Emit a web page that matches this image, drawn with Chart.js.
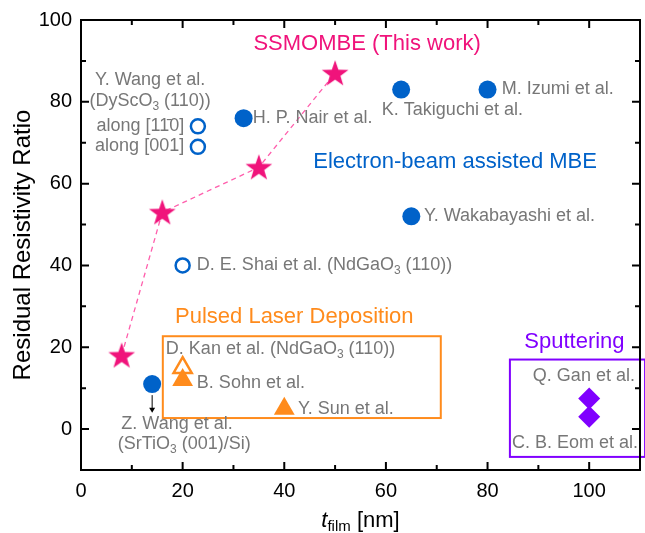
<!DOCTYPE html>
<html>
<head>
<meta charset="utf-8">
<script src="https://cdn.jsdelivr.net/npm/chart.js@4.4.1/dist/chart.umd.min.js"></script>
<style>
  html, body { margin: 0; padding: 0; background: #fff; }
  #wrap { width: 645px; height: 533px; }
</style>
</head>
<body>
<div id="wrap"><canvas id="rrrChart" width="645" height="533"></canvas></div>
<script>
// --- data ---
const ssmombeX = [8, 16, 35, 50];
const ssmombeY = [18, 53, 64, 87];

const ebFilledX = [14, 32, 63, 80, 65];
const ebFilledY = [11, 76, 83, 83, 52];

const ebOpenX = [23, 23, 20];
const ebOpenY = [74, 69, 40];

const pldOpenX = [20];
const pldOpenY = [15];
const pldFilledX = [20, 40];
const pldFilledY = [12, 5];

const sputX = [100, 100];
const sputY = [7.5, 3];

const xTickLabels = [0, 20, 40, 60, 80, 100];
const yTickLabels = [0, 20, 40, 60, 80, 100];

const PINK = '#f0137b';
const BLUE = '#0062c9';
const ORANGE = '#ff8b1c';
const PURPLE = '#8000ff';
const GRAY = '#777777';
const FONT = '"Liberation Sans", Arial, sans-serif';

function pts(xs, ys) {
    return xs.map((x, i) => ({ x: x, y: ys[i] }));
}

// five pointed star used as marker
function makeStar(r, color) {
    const c = document.createElement('canvas');
    const s = Math.ceil(r * 2 + 2);
    c.width = s;
    c.height = s;
    const g = c.getContext('2d');
    g.fillStyle = color;
    g.beginPath();
    for (let i = 0; i < 10; i++) {
        const rad = i % 2 === 0 ? r : r * 0.4;
        const a = -Math.PI / 2 + i * Math.PI / 5;
        const px = s / 2 + rad * Math.cos(a);
        const py = s / 2 + 1 + rad * Math.sin(a);
        if (i === 0) g.moveTo(px, py); else g.lineTo(px, py);
    }
    g.closePath();
    g.fill();
    return c;
}

// text labels placed in data units
const notes = [
    { t: 'SSMOMBE (This work)', x: 56.3, y: 94.1, c: PINK, s: 22, a: 'center' },
    { t: 'Electron-beam assisted MBE', x: 45.7, y: 65.3, c: BLUE, s: 22, a: 'left' },
    { t: 'Pulsed Laser Deposition', x: 18.5, y: 27.4, c: ORANGE, s: 22, a: 'left' },
    { t: 'Sputtering', x: 97.1, y: 21.3, c: PURPLE, s: 22, a: 'center' },
    { t: 'Y. Wang et al.', x: 13.6, y: 85.3, a: 'center' },
    { t: '(DyScO|3| (110))', x: 13.6, y: 80.2, a: 'center' },
    { t: 'along [11\u03040]', x: 20.3, y: 74.1, a: 'right' },
    { t: 'along [001]', x: 20.3, y: 69.2, a: 'right' },
    { t: 'H. P. Nair et al.', x: 33.8, y: 76, a: 'left' },
    { t: 'K. Takiguchi et al.', x: 59.2, y: 78, a: 'left' },
    { t: 'M. Izumi et al.', x: 82.8, y: 83.1, a: 'left' },
    { t: 'Y. Wakabayashi et al.', x: 67.5, y: 52.1, a: 'left' },
    { t: 'D. E. Shai et al. (NdGaO|3| (110))', x: 22.8, y: 40.1, a: 'left' },
    { t: 'D. Kan et al. (NdGaO|3| (110))', x: 16.7, y: 19.6, a: 'left' },
    { t: 'B. Sohn et al.', x: 22.8, y: 11.2, a: 'left' },
    { t: 'Y. Sun et al.', x: 42.7, y: 4.9, a: 'left' },
    { t: 'Z. Wang et al.', x: 18.9, y: 1.2, a: 'center' },
    { t: '(SrTiO|3| (001)/Si)', x: 20.3, y: -3.7, a: 'center' },
    { t: 'Q. Gan et al.', x: 109, y: 13, a: 'right' },
    { t: 'C. B. Eom et al.', x: 109.6, y: -3.4, a: 'right' }
];

const boxes = [
    { x0: 16.1, x1: 70.8, y0: 22.7, y1: 2.7, c: ORANGE },
    { x0: 84.4, x1: 111, y0: 17, y1: -6.8, c: PURPLE }
];

// text with "|sub|" segments
function drawRich(ctx, text, x, y, size, color, align) {
    const parts = text.split('|');
    const subSize = Math.round(size * 0.68);
    let total = 0;
    parts.forEach((p, i) => {
        ctx.font = (i % 2 ? subSize : size) + 'px ' + FONT;
        total += ctx.measureText(p).width;
    });
    let cx = x;
    if (align === 'center') cx = x - total / 2;
    if (align === 'right') cx = x - total;
    ctx.fillStyle = color;
    ctx.textAlign = 'left';
    ctx.textBaseline = 'middle';
    parts.forEach((p, i) => {
        const sub = i % 2 === 1;
        ctx.font = (sub ? subSize : size) + 'px ' + FONT;
        ctx.fillText(p, cx, sub ? y + size * 0.3 : y);
        cx += ctx.measureText(p).width;
    });
}

const framePlugin = {
    id: 'framePlugin',
    afterDraw(chart) {
        const ctx = chart.ctx;
        const area = chart.chartArea;
        const xs = chart.scales.x;
        const ys = chart.scales.y;
        ctx.save();

        // boxes
        boxes.forEach(b => {
            ctx.strokeStyle = b.c;
            ctx.lineWidth = 2;
            const l = xs.getPixelForValue(b.x0), r = xs.getPixelForValue(b.x1);
            const t = ys.getPixelForValue(b.y0), btm = ys.getPixelForValue(b.y1);
            ctx.strokeRect(l, t, r - l, btm - t);
        });

        // labels
        notes.forEach(n => {
            drawRich(ctx, n.t, xs.getPixelForValue(n.x), ys.getPixelForValue(n.y),
                n.s || 18, n.c || GRAY, n.a);
        });

        // arrow under Z. Wang point
        const ax = xs.getPixelForValue(14);
        const ay0 = ys.getPixelForValue(8.3), ay1 = ys.getPixelForValue(4.0);
        ctx.strokeStyle = '#000';
        ctx.fillStyle = '#000';
        ctx.lineWidth = 1;
        ctx.beginPath();
        ctx.moveTo(ax, ay0);
        ctx.lineTo(ax, ay1 - 4);
        ctx.stroke();
        ctx.beginPath();
        ctx.moveTo(ax - 3, ay1 - 5);
        ctx.lineTo(ax + 3, ay1 - 5);
        ctx.lineTo(ax, ay1);
        ctx.closePath();
        ctx.fill();

        // frame and inward ticks
        ctx.strokeStyle = '#000';
        ctx.lineWidth = 2;
        ctx.strokeRect(area.left, area.top, area.right - area.left, area.bottom - area.top);
        ctx.beginPath();
        xs.ticks.forEach(t => {
            const px = xs.getPixelForValue(t.value);
            const len = xTickLabels.includes(t.value) ? 8 : 5;
            ctx.moveTo(px, area.bottom);
            ctx.lineTo(px, area.bottom - len);
            ctx.moveTo(px, area.top);
            ctx.lineTo(px, area.top + len);
        });
        ys.ticks.forEach(t => {
            const py = ys.getPixelForValue(t.value);
            const len = yTickLabels.includes(t.value) ? 8 : 5;
            ctx.moveTo(area.left, py);
            ctx.lineTo(area.left + len, py);
            ctx.moveTo(area.right, py);
            ctx.lineTo(area.right - len, py);
        });
        ctx.stroke();

        // x axis title: t_film [nm]
        const cxm = (area.left + area.right) / 2;
        ctx.fillStyle = '#000';
        ctx.textBaseline = 'alphabetic';
        ctx.textAlign = 'left';
        const big = 'italic 22px ' + FONT, small = '15px ' + FONT, norm = '22px ' + FONT;
        ctx.font = big; const w1 = ctx.measureText('t').width;
        ctx.font = small; const w2 = ctx.measureText('film').width;
        ctx.font = norm; const w3 = ctx.measureText(' [nm]').width;
        let tx = cxm - (w1 + w2 + w3) / 2;
        const base = 527;
        ctx.font = big; ctx.fillText('t', tx, base); tx += w1;
        ctx.font = small; ctx.fillText('film', tx, base + 4); tx += w2;
        ctx.font = norm; ctx.fillText(' [nm]', tx, base);

        ctx.restore();
    }
};

new Chart(document.getElementById('rrrChart').getContext('2d'), {
    type: 'scatter',
    data: {
        datasets: [
            {
                label: 'SSMOMBE',
                data: pts(ssmombeX, ssmombeY),
                showLine: true,
                borderColor: '#ff5eac',
                borderWidth: 1.3,
                borderDash: [5, 4],
                pointStyle: makeStar(14, PINK),
                pointRadius: 14
            },
            {
                label: 'E-beam MBE',
                data: pts(ebFilledX, ebFilledY),
                pointStyle: 'circle',
                pointRadius: 9,
                pointBackgroundColor: BLUE,
                pointBorderColor: BLUE,
                pointBorderWidth: 0
            },
            {
                label: 'E-beam MBE (other)',
                data: pts(ebOpenX, ebOpenY),
                pointStyle: 'circle',
                pointRadius: 7,
                pointBackgroundColor: '#fff',
                pointBorderColor: BLUE,
                pointBorderWidth: 2.5
            },
            {
                label: 'PLD',
                data: pts(pldFilledX, pldFilledY),
                pointStyle: 'triangle',
                pointRadius: 12,
                pointBackgroundColor: ORANGE,
                pointBorderColor: ORANGE,
                pointBorderWidth: 0
            },
            {
                label: 'PLD (other)',
                data: pts(pldOpenX, pldOpenY),
                pointStyle: 'triangle',
                pointRadius: 10.5,
                pointBackgroundColor: '#fff',
                pointBorderColor: ORANGE,
                pointBorderWidth: 2.5
            },
            {
                label: 'Sputtering',
                data: pts(sputX, sputY),
                pointStyle: 'rectRot',
                pointRadius: 11,
                pointBackgroundColor: PURPLE,
                pointBorderColor: PURPLE,
                pointBorderWidth: 0
            }
        ]
    },
    options: {
        responsive: false,
        animation: false,
        events: [],
        layout: {
            autoPadding: false,
            padding: { top: 20, right: 5, left: 0, bottom: 0 }
        },
        plugins: {
            legend: { display: false },
            tooltip: { enabled: false }
        },
        scales: {
            x: {
                type: 'linear',
                min: 0,
                max: 110,
                afterFit: function(scale) {
                    scale.height = 63;
                    scale.paddingLeft = 0;
                    scale.paddingRight = 0;
                },
                grid: { display: false, drawTicks: false },
                border: { display: false },
                ticks: {
                    stepSize: 10,
                    padding: 9,
                    color: '#000',
                    font: { family: FONT, size: 20 },
                    maxRotation: 0,
                    autoSkip: false,
                    callback: function(value) {
                        return xTickLabels.includes(value) ? String(value) : '';
                    }
                }
            },
            y: {
                type: 'linear',
                min: -10,
                max: 100,
                afterFit: function(scale) {
                    scale.width = 81;
                    scale.paddingTop = 0;
                    scale.paddingBottom = 0;
                },
                grid: { display: false, drawTicks: false },
                border: { display: false },
                title: {
                    display: true,
                    text: 'Residual Resistivity Ratio',
                    color: '#000',
                    font: { family: FONT, size: 24 },
                    padding: { top: 9, bottom: 0 }
                },
                ticks: {
                    stepSize: 10,
                    padding: 9,
                    color: '#000',
                    font: { family: FONT, size: 20 },
                    autoSkip: false,
                    callback: function(value) {
                        return yTickLabels.includes(value) ? String(value) : '';
                    }
                }
            }
        }
    },
    plugins: [framePlugin]
});
</script>
</body>
</html>
